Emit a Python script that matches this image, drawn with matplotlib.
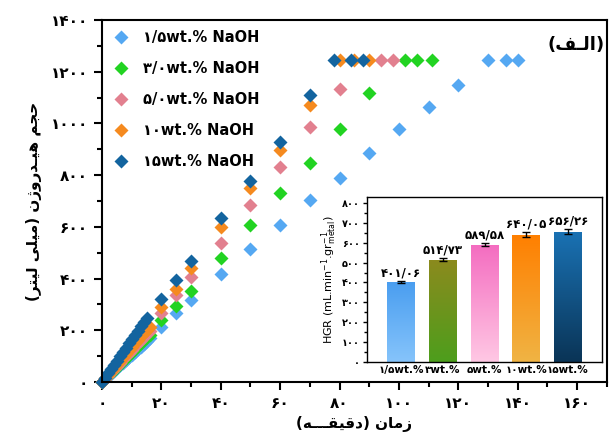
import numpy as np
import matplotlib.pyplot as plt
from matplotlib.ticker import MultipleLocator, FuncFormatter
from matplotlib.colors import LinearSegmentedColormap

plt.rcParams['font.family'] = ['DejaVu Sans']
plt.rcParams['font.weight'] = 'bold'

FA_DIGITS = str.maketrans('0123456789.', '۰۱۲۳۴۵۶۷۸۹/')


def to_fa(s):
    return str(s).translate(FA_DIGITS)


# hydrogen volume (mL) vs time (min) for each NaOH concentration
t_15 = [0, 1, 2, 3, 4, 5, 6, 7, 8, 9, 10, 11, 12, 13, 14, 15, 16,
        20, 25, 30, 40, 50, 60, 70, 80, 90, 100, 110, 120, 130, 136, 140]
v_15 = [0, 11, 22, 32, 43, 53, 64, 74, 85, 95, 106, 116, 127, 137, 148, 158, 169,
        213, 266, 317, 418, 514, 607, 704, 789, 885, 978, 1063, 1148, 1245, 1245, 1245]

t_30 = [0, 1, 2, 3, 4, 5, 6, 7, 8, 9, 10, 11, 12, 13, 14, 15, 16,
        20, 25, 30, 40, 50, 60, 70, 80, 90, 102, 106, 111]
v_30 = [0, 12, 23, 35, 46, 58, 69, 81, 92, 104, 115, 127, 138, 150, 161, 173, 182,
        240, 294, 352, 479, 607, 731, 847, 978, 1117, 1245, 1245, 1245]

t_50 = [0, 1, 2, 3, 4, 5, 6, 7, 8, 9, 10, 11, 12, 13, 14, 15, 16,
        20, 25, 30, 40, 50, 60, 70, 80, 94, 98]
v_50 = [0, 13, 25, 38, 50, 63, 75, 88, 100, 113, 125, 138, 150, 163, 175, 188, 196,
        267, 336, 406, 538, 684, 831, 986, 1133, 1245, 1245]

t_100 = [0, 1, 2, 3, 4, 5, 6, 7, 8, 9, 10, 11, 12, 13, 14, 15, 16,
         20, 25, 30, 40, 50, 60, 70, 80, 85, 90]
v_100 = [0, 14, 27, 41, 54, 68, 81, 95, 108, 122, 135, 149, 162, 176, 189, 203, 212,
         290, 359, 440, 600, 750, 897, 1071, 1245, 1245, 1245]

t_150 = [0, 1, 2, 3, 4, 5, 6, 7, 8, 9, 10, 11, 12, 13, 14, 15,
         20, 25, 30, 40, 50, 60, 70, 78, 84, 88]
v_150 = [0, 17, 33, 50, 66, 83, 99, 116, 132, 149, 165, 182, 198, 215, 231, 248,
         321, 394, 468, 634, 777, 928, 1110, 1245, 1245, 1245]

series_labels = ['۱/۵wt.% NaOH', '۳/۰wt.% NaOH', '۵/۰wt.% NaOH',
                 '۱۰wt.% NaOH', '۱۵wt.% NaOH']
series_colors = ['#55a8f2', '#22d322', '#e2808f', '#f58a1f', '#13649f']

# hydrogen generation rate (inset)
hgr_labels = ['۱/۵wt.%', '۳wt.%', '۵wt.%', '۱۰wt.%', '۱۵wt.%']
hgr_values = [401.06, 514.73, 589.58, 640.05, 656.26]
hgr_errors = [5, 7, 8, 12, 13]
hgr_grad = [('#86c4fb', '#4a9ef0'), ('#4d9e1c', '#8c8a1e'), ('#ffc8e4', '#f46cc0'),
            ('#f0b444', '#ff7f00'), ('#0a3456', '#1a72b4')]

# shaped Persian strings (presentation forms, visual order)
ylabel_fa = '(\uFEAE\uFE98\uFEF4\uFEDF \uFEF0\uFEE0\uFEF4\uFEE3) ' \
            '\uFEE5\uFB8A\uFEED\uFEAD\uFEAA\u0640\uFEF4\uFEEB \uFEE2\uFEA0\uFEA3'
xlabel_fa = '(\uFEEA\u0640\u0640\u0640\uFED8\uFEF4\uFED7\uFEA9) \uFEE5\uFE8E\uFEE3\uFEAF'
panel_fa = '(\uFED2\u0640\uFEDF\uFE8D)'

fig = plt.figure(figsize=(6.09, 4.43), dpi=100)
ax = fig.add_axes([0.1675, 0.1377, 0.829, 0.817])

for t, v, lab, c in zip([t_15, t_30, t_50, t_100, t_150],
                        [v_15, v_30, v_50, v_100, v_150],
                        series_labels, series_colors):
    ax.plot(t, v, 'D', ms=7.5, color=c, mec='none', label=lab, clip_on=False)

ax.set_xlim(0, 170)
ax.set_ylim(0, 1400)
ax.xaxis.set_major_locator(MultipleLocator(20))
ax.xaxis.set_minor_locator(MultipleLocator(10))
ax.yaxis.set_major_locator(MultipleLocator(200))
ax.yaxis.set_minor_locator(MultipleLocator(100))
fa_fmt = FuncFormatter(lambda x, p: to_fa(int(round(x))))
ax.xaxis.set_major_formatter(fa_fmt)
ax.yaxis.set_major_formatter(fa_fmt)
ax.tick_params(which='major', length=6, width=1.5, labelsize=11, pad=4)
ax.tick_params(which='minor', length=3.5, width=1.5)
for s in ax.spines.values():
    s.set_linewidth(1.5)

ax.set_xlabel(xlabel_fa, fontsize=11, fontweight='bold', labelpad=4)
ax.set_ylabel(ylabel_fa, fontsize=11, fontweight='bold', labelpad=6)
ax.text(0.995, 0.93, panel_fa, transform=ax.transAxes, ha='right', va='center',
        fontsize=13, fontweight='bold')

ax.legend(loc='upper left', frameon=False, labelspacing=1.1,
          handlelength=1.2, handletextpad=0.9, borderaxespad=0.3,
          prop={'weight': 'bold', 'size': 10.5})

# inset: hydrogen generation rate
ins = fig.add_axes([0.6026, 0.1828, 0.386, 0.3725])
ins.set_zorder(5)
ins.set_facecolor('white')
x = np.arange(len(hgr_values))
bars = ins.bar(x, hgr_values, width=0.66, color='none', edgecolor='none')
grad = np.linspace(0, 1, 256).reshape(-1, 1)
for rect, (c0, c1) in zip(bars, hgr_grad):
    cmap = LinearSegmentedColormap.from_list('g', [c0, c1])
    x0, y0 = rect.get_x(), rect.get_y()
    w, h = rect.get_width(), rect.get_height()
    im = ins.imshow(grad, cmap=cmap, origin='lower', aspect='auto',
                    extent=[x0, x0 + w, y0, y0 + h], zorder=2)
    im.set_clip_path(rect)
ins.errorbar(x, hgr_values, yerr=hgr_errors, fmt='none', ecolor='black',
             elinewidth=1.0, capsize=3, capthick=1.0, zorder=3)
for xi, v, e in zip(x, hgr_values, hgr_errors):
    ins.text(xi, v + e + 8, to_fa(f'{v:.2f}'), ha='center', va='bottom',
             fontsize=8.5, fontweight='bold')

ins.set_xlim(-0.82, 4.82)
ins.set_ylim(0, 830)
ins.set_xticks(x)
ins.set_xticklabels(hgr_labels, fontsize=7.5, fontweight='bold')
ins.yaxis.set_major_locator(MultipleLocator(100))
ins.yaxis.set_minor_locator(MultipleLocator(50))
ins.yaxis.set_major_formatter(FuncFormatter(lambda v, p: to_fa(int(round(v)))))
ins.tick_params(axis='y', which='major', labelsize=7, length=3, width=1, pad=2)
ins.tick_params(axis='y', which='minor', length=2, width=1)
ins.tick_params(axis='x', length=0, pad=2)
for s in ins.spines.values():
    s.set_linewidth(1.0)
ins.set_ylabel(r'HGR (mL.min$^{\mathregular{-1}}$.gr$^{\mathregular{-1}}_{\mathregular{metal}}$)',
               fontsize=8, fontweight='normal', labelpad=2)

fig.savefig('out.png', dpi=100)
